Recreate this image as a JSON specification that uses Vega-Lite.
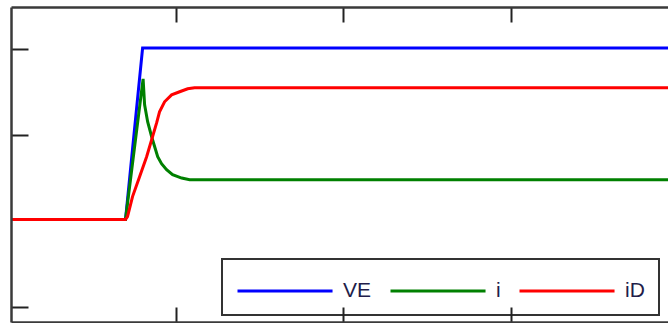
{
  "$schema": "https://vega.github.io/schema/vega-lite/v6.json",
  "width": 657,
  "height": 315,
  "autosize": {"type": "none"},
  "padding": {"left": 11, "top": 7, "right": 0, "bottom": 1},
  "background": "white",
  "config": {"view": {"stroke": null}, "legend": {"strokeWidth": 2}},
  "data": {
    "values": [
      {"series": "VE", "t": 0.018, "v": 0.017},
      {"series": "VE", "t": 0.701, "v": 0.017},
      {"series": "VE", "t": 0.803, "v": 2.01},
      {"series": "VE", "t": 3.937, "v": 2.01},
      {"series": "i", "t": 0.018, "v": 0.017},
      {"series": "i", "t": 0.701, "v": 0.017},
      {"series": "i", "t": 0.806, "v": 1.653},
      {"series": "i", "t": 0.815, "v": 1.352},
      {"series": "i", "t": 0.833, "v": 1.154},
      {"series": "i", "t": 0.857, "v": 0.98},
      {"series": "i", "t": 0.875, "v": 0.864},
      {"series": "i", "t": 0.893, "v": 0.748},
      {"series": "i", "t": 0.916, "v": 0.667},
      {"series": "i", "t": 0.946, "v": 0.597},
      {"series": "i", "t": 0.982, "v": 0.539},
      {"series": "i", "t": 1.036, "v": 0.499},
      {"series": "i", "t": 1.084, "v": 0.481},
      {"series": "i", "t": 3.937, "v": 0.481},
      {"series": "iD", "t": 0.018, "v": 0.017},
      {"series": "iD", "t": 0.701, "v": 0.017},
      {"series": "iD", "t": 0.713, "v": 0.052},
      {"series": "iD", "t": 0.743, "v": 0.284},
      {"series": "iD", "t": 0.785, "v": 0.516},
      {"series": "iD", "t": 0.827, "v": 0.748},
      {"series": "iD", "t": 0.857, "v": 0.945},
      {"series": "iD", "t": 0.887, "v": 1.143},
      {"series": "iD", "t": 0.904, "v": 1.27},
      {"series": "iD", "t": 0.934, "v": 1.386},
      {"series": "iD", "t": 0.976, "v": 1.467},
      {"series": "iD", "t": 1.024, "v": 1.503},
      {"series": "iD", "t": 1.072, "v": 1.537},
      {"series": "iD", "t": 1.113, "v": 1.55},
      {"series": "iD", "t": 3.937, "v": 1.55}
    ]
  },
  "layer": [
    {
      "mark": {"type": "line", "strokeWidth": 3, "interpolate": "linear"},
      "encoding": {
        "x": {
          "field": "t", "type": "quantitative",
          "scale": {"domain": [0.018, 3.937], "nice": false, "zero": false},
          "axis": {"orient": "bottom", "values": [1, 2, 3], "labels": false, "title": null, "grid": false,
                   "tickSize": -15, "tickColor": "#222222", "tickWidth": 2, "domainColor": "#3a3a3a", "domainWidth": 2.5, "zindex": 1}
        },
        "y": {
          "field": "v", "type": "quantitative",
          "scale": {"domain": [-1.174, 2.488], "nice": false, "zero": false},
          "axis": {"orient": "left", "values": [-1, 1, 2], "labels": false, "title": null, "grid": false,
                   "tickSize": -17, "tickColor": "#222222", "tickWidth": 2, "domainColor": "#3a3a3a", "domainWidth": 2.5, "zindex": 1}
        },
        "color": {
          "field": "series", "type": "nominal",
          "scale": {"domain": ["VE", "i", "iD"], "range": ["#0000FF", "#008000", "#FF0000"]},
          "legend": {
            "orient": "none", "legendX": 211, "legendY": 252, "direction": "horizontal", "title": null,
            "symbolType": "M-1,0H4.76", "symbolSize": 1089, "symbolStrokeWidth": 3,
            "labelFontSize": 21, "labelFont": "Liberation Sans", "labelColor": "#221d4a",
            "labelOffset": 71, "columnPadding": 12, "padding": 14,
            "strokeColor": "#333333", "fillColor": "white"
          }
        }
      }
    },
    {
      "mark": {"type": "point", "opacity": 0},
      "encoding": {
        "x": {
          "field": "t", "type": "quantitative",
          "axis": {"orient": "top", "values": [1, 2, 3], "labels": false, "title": null, "grid": false,
                   "tickSize": -15, "tickColor": "#222222", "tickWidth": 2, "domainColor": "#3a3a3a", "domainWidth": 2.5, "zindex": 1}
        }
      }
    }
  ]
}
